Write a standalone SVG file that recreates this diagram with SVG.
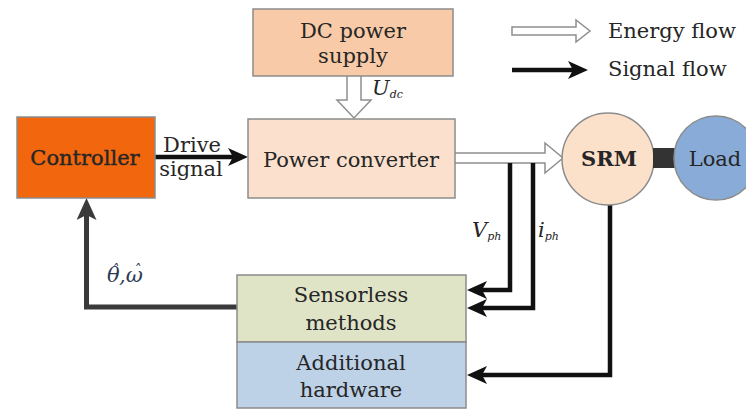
<svg xmlns="http://www.w3.org/2000/svg" width="746" height="409" viewBox="0 0 746 409">
<defs>
<style>
text{font-family:"DejaVu Serif","Liberation Serif",serif;font-size:21px;fill:#262626}
.c{text-anchor:middle}
.box{stroke:#8c8c8c;stroke-width:1.5}
.sig{fill:none;stroke:#111;stroke-width:4.5}
.fb{fill:none;stroke:#3a3a3a;stroke-width:5}
.energy{fill:#fff;stroke:#8e8e8e;stroke-width:1.5;stroke-linejoin:miter}
.it{font-style:italic}
.sub{font-size:11px;font-style:italic}
</style>
<marker id="ah" viewBox="0 0 20 18" refX="6" refY="9" markerUnits="userSpaceOnUse" markerWidth="20" markerHeight="18" orient="auto">
<path d="M0,0 L20,9 L0,18 L5,9 Z" fill="#111"/>
</marker>
<marker id="ahg" viewBox="0 0 22 20" refX="6" refY="10" markerUnits="userSpaceOnUse" markerWidth="22" markerHeight="20" orient="auto">
<path d="M0,0 L22,10 L0,20 L5,10 Z" fill="#3a3a3a"/>
</marker>
</defs>
<rect width="746" height="409" fill="#fff"/>

<g id="connectors">
<path class="energy" d="M347,76 L347,100 L337,100 L354,118 L371,100 L361,100 L361,76"/>
<path class="energy" d="M455,153 L545,153 L545,143 L563,158 L545,173 L545,163 L455,163"/>
<line class="sig" x1="155" y1="157" x2="234" y2="157" marker-end="url(#ah)"/>
<path class="sig" d="M510,163 L510,290 L481,290" marker-end="url(#ah)"/>
<path class="sig" d="M533,163 L533,308 L481,308" marker-end="url(#ah)"/>
<path class="sig" d="M610,205 L610,375 L481,375" marker-end="url(#ah)"/>
<path class="fb" d="M237,307 L86.5,307 L86.5,214" marker-end="url(#ahg)"/>
</g>

<g id="legend">
<path class="energy" d="M512,27 L576,27 L576,20 L590,31 L576,42 L576,35 L512,35 Z"/>
<line class="sig" x1="512" y1="70" x2="574" y2="70" stroke-width="5" marker-end="url(#ah)"/>
<text x="608" y="38">Energy flow</text>
<text x="608" y="76">Signal flow</text>
</g>

<g id="dc-power-supply">
<rect class="box" x="253" y="9" width="200" height="67" fill="#f8caa7"/>
<text class="c" x="353" y="38" font-size="22">DC power</text>
<text class="c" x="353" y="63">supply</text>
</g>
<text class="it" x="372" y="95" font-size="19">U<tspan class="sub" dy="3">dc</tspan></text>

<g id="controller">
<rect class="box" x="17" y="117" width="138" height="81" fill="#f2660d"/>
<text class="c" x="85" y="165" stroke="#262626" stroke-width="0.4">Controller</text>
</g>
<text class="c" x="192" y="152">Drive</text>
<text class="c" x="191" y="176">signal</text>

<g id="power-converter">
<rect class="box" x="248" y="119" width="207" height="79" fill="#fbe1cd"/>
<text class="c" x="351" y="167">Power converter</text>
</g>

<g id="srm">
<circle class="box" cx="608" cy="159" r="46" fill="#fbe0ca"/>
<text class="c" x="609" y="166" font-weight="bold">SRM</text>
</g>
<rect id="shaft" x="653" y="148" width="22" height="20" fill="#333"/>
<g id="load">
<circle class="box" cx="716" cy="158" r="42" fill="#88acd7"/>
<text class="c" x="715" y="166">Load</text>
</g>

<text class="it" x="472" y="237" font-size="19">V<tspan class="sub" dy="3">ph</tspan></text>
<text class="it" x="538" y="237" font-size="19">i<tspan class="sub" dy="3">ph</tspan></text>
<text class="it" font-size="20" style="fill:#2d3a55"><tspan x="107" y="282">θ</tspan><tspan x="111.5" y="275" font-size="14">ˆ</tspan><tspan x="119" y="282">,ω</tspan><tspan x="133.5" y="275" font-size="14">ˆ</tspan></text>

<g id="sensorless-methods">
<rect class="box" x="237" y="275" width="229" height="67" fill="#dfe4c6"/>
<text class="c" x="351" y="302">Sensorless</text>
<text class="c" x="351" y="330">methods</text>
</g>
<g id="additional-hardware">
<rect class="box" x="237" y="342" width="229" height="66" fill="#bdd1e7"/>
<text class="c" x="351" y="370">Additional</text>
<text class="c" x="351" y="397">hardware</text>
</g>
</svg>
